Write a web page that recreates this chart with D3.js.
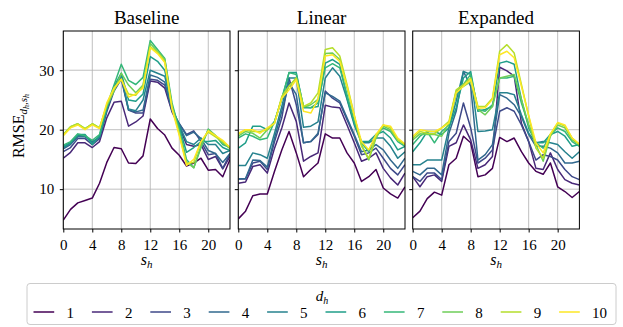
<!DOCTYPE html>
<html><head><meta charset="utf-8">
<script src="https://cdn.jsdelivr.net/npm/d3@7"></script>
<style>body{margin:0;background:#fff}svg{display:block}text{font-family:"Liberation Serif","DejaVu Serif",serif;fill:#000}</style>
</head><body><svg id="c" width="623" height="327"></svg>
<script>
const hours = d3.range(24);
const dhLabels = ["1","2","3","4","5","6","7","8","9","10"];
const panelTitles = ["Baseline","Linear","Expanded"];
const xTicks = [0,4,8,12,16,20];
const yTicks = [10,20,30];

const baseline = [
 [4.8,6.6,7.7,8.1,8.5,11.0,14.5,17.0,16.8,14.4,14.3,15.6,21.8,20.2,19.1,16.9,15.7,13.9,14.4,15.2,13.2,13.3,12.1,15.0],
 [15.2,16.2,17.8,17.8,17.0,18.0,22.0,24.6,24.8,20.6,21.3,22.3,28.2,28.0,27.0,23.0,20.5,17.5,17.2,17.5,15.0,15.5,13.4,15.5],
 [16.3,17.0,18.5,18.5,17.5,18.5,23.0,26.5,28.5,23.3,22.8,22.8,28.5,28.3,27.5,23.2,21.0,19.2,19.8,18.0,15.8,16.0,13.5,16.0],
 [16.8,17.5,18.8,18.8,18.0,18.7,23.3,26.8,28.8,23.3,23.0,23.3,29.2,28.8,28.0,23.3,21.0,19.0,19.6,18.5,16.5,16.0,14.5,16.0],
 [17.0,17.7,19.0,19.0,17.8,18.8,23.5,27.0,29.0,23.5,23.2,25.0,30.0,29.5,29.0,23.5,20.8,18.0,17.5,18.6,17.5,17.5,16.0,16.5],
 [17.2,17.8,19.2,19.2,17.5,19.0,23.5,27.3,29.5,25.0,24.8,26.0,32.3,31.5,30.0,24.0,20.5,16.2,17.0,18.0,18.0,18.2,17.0,16.5],
 [17.4,18.0,19.3,19.0,18.2,19.2,24.0,27.5,31.0,28.3,27.6,28.8,35.0,33.5,32.0,24.5,20.0,15.0,13.6,17.0,20.1,19.0,17.5,17.0],
 [19.2,20.5,21.0,20.2,21.0,20.3,24.0,26.5,29.5,27.5,26.2,27.5,34.5,33.2,31.8,24.0,19.5,14.5,13.6,17.2,20.0,19.0,17.8,16.8],
 [19.2,20.5,21.0,20.2,21.0,20.3,24.2,26.8,28.5,26.0,25.8,27.3,34.0,33.0,31.5,23.8,19.3,14.3,14.5,18.0,19.6,18.8,18.0,17.0],
 [19.0,20.3,20.8,20.0,20.8,20.2,24.5,27.0,28.5,25.5,26.0,27.0,33.8,32.8,31.3,23.5,19.0,14.0,15.0,18.0,19.8,19.0,18.2,17.0]
];
const linear = [
 [5.0,6.3,8.9,9.2,9.2,13.0,16.6,19.7,16.1,12.1,13.3,14.4,19.3,18.6,18.6,16.1,14.4,11.3,12.1,13.3,10.2,9.2,8.5,10.4],
 [11.0,11.2,13.8,14.1,12.7,16.9,20.3,24.5,21.4,14.7,15.5,16.1,24.1,23.8,23.7,20.8,17.8,14.7,15.2,16.1,13.5,11.9,10.7,12.7],
 [11.7,11.7,14.4,14.7,13.3,18.0,22.0,28.7,24.2,17.8,18.0,19.2,26.5,25.3,24.5,21.7,18.9,15.8,16.1,16.9,15.2,13.5,12.4,14.1],
 [11.7,11.8,14.9,14.8,13.7,18.6,23.1,27.9,25.9,17.8,18.0,19.4,26.2,25.6,24.8,22.0,19.2,16.3,16.6,17.5,16.6,14.9,13.5,15.2],
 [14.0,14.0,16.1,15.8,15.2,19.4,23.9,28.7,28.7,20.4,20.6,21.3,28.7,30.4,29.0,25.1,20.8,17.8,17.8,18.6,18.6,17.2,15.2,16.3],
 [16.9,17.8,20.6,20.6,20.0,21.4,25.1,29.6,29.6,23.7,23.7,23.9,31.2,31.8,31.0,25.3,21.1,18.0,18.0,19.2,19.7,18.6,16.6,17.2],
 [18.6,19.3,18.9,18.3,18.6,21.4,25.3,29.6,29.3,23.9,23.7,24.5,30.4,31.1,30.4,25.9,21.4,17.8,16.3,19.2,20.3,19.7,18.0,17.2],
 [18.9,19.7,19.4,18.6,20.0,21.1,25.3,27.3,28.7,23.8,24.2,25.1,32.8,32.9,31.8,27.0,22.2,17.5,14.9,18.6,20.6,20.0,18.3,17.5],
 [19.2,20.0,19.7,19.7,20.0,21.1,25.6,27.3,28.7,23.9,24.5,26.2,33.5,33.8,32.4,27.6,22.5,17.2,15.2,18.9,20.8,20.3,18.3,17.5],
 [19.4,20.0,20.0,19.4,20.3,21.1,25.3,26.7,28.4,23.1,22.8,25.1,32.4,32.6,31.5,27.3,22.4,18.0,16.6,19.2,20.8,20.6,18.6,17.6]
];
const expanded = [
 [5.2,6.3,8.4,9.5,9.0,14.1,15.2,18.9,17.8,12.1,12.4,13.5,18.7,18.0,18.6,16.3,14.4,13.0,12.5,14.4,10.4,9.6,8.6,9.6],
 [12.1,10.4,12.1,12.4,11.3,17.2,17.8,20.8,18.3,13.5,14.1,15.5,30.5,29.9,29.0,21.1,18.0,13.5,13.3,16.1,13.3,11.6,11.0,10.7],
 [12.1,11.3,12.7,12.7,11.6,18.0,19.4,24.5,20.3,14.4,15.2,16.6,23.1,23.7,23.1,20.8,18.0,14.9,15.8,15.5,14.9,13.3,12.1,11.6],
 [13.0,12.4,13.5,13.5,12.4,19.4,23.1,29.8,27.3,14.9,15.8,17.5,25.9,25.3,24.2,22.2,19.2,17.2,17.2,16.9,16.1,14.4,14.4,14.7],
 [14.1,14.1,14.9,14.9,14.9,20.3,24.8,29.8,29.3,19.7,19.8,20.0,26.2,26.2,25.9,22.5,19.4,17.8,18.0,17.8,17.5,16.3,15.2,16.3],
 [16.3,17.8,19.7,19.7,19.2,20.3,23.7,28.7,29.8,23.1,23.4,23.9,31.2,31.5,31.0,25.1,20.3,17.8,17.8,19.2,19.7,18.9,17.2,17.5],
 [17.5,18.9,19.7,17.8,19.7,20.8,25.9,27.6,29.3,23.4,23.1,24.2,28.7,28.7,29.0,24.5,20.8,17.8,16.9,19.2,20.3,19.7,18.0,17.2],
 [18.3,19.3,19.2,19.2,18.9,21.1,26.5,27.3,28.1,23.4,22.5,23.9,28.7,29.0,29.3,25.1,20.8,17.5,14.7,18.9,20.8,20.3,18.3,17.5],
 [18.6,19.7,19.4,19.3,20.3,21.4,26.7,27.6,28.7,23.9,23.9,25.3,33.2,34.3,32.9,27.6,22.3,16.9,15.2,19.2,21.1,20.6,18.6,17.5],
 [18.9,20.0,19.8,19.7,20.3,21.1,26.2,27.3,28.4,23.6,23.7,25.1,32.6,33.2,32.1,27.3,22.4,17.8,16.1,19.3,21.2,20.8,18.6,17.6]
];
const panels = [baseline, linear, expanded];

const svg = d3.select("#c");
const yTop = 31, yBot = 229;
const lefts = [63.3, 238.3, 412.7], pw = 166.7;
const color = i => d3.interpolateViridis(i / 9);
const y = d3.scaleLinear().domain([3.3, 36.6]).range([yBot, yTop]);

panels.forEach((data, p) => {
  const x = d3.scaleLinear().domain([0, 23]).range([lefts[p], lefts[p] + pw]);
  const g = svg.append("g");
  g.selectAll(".gx").data(xTicks).join("line")
    .attr("x1", d => x(d)).attr("x2", d => x(d)).attr("y1", yTop).attr("y2", yBot)
    .attr("stroke", "#b0b0b0").attr("stroke-width", 0.8);
  g.selectAll(".gy").data(yTicks).join("line")
    .attr("y1", d => y(d)).attr("y2", d => y(d)).attr("x1", x(0)).attr("x2", x(23))
    .attr("stroke", "#b0b0b0").attr("stroke-width", 0.8);
  const clipId = "clip" + p;
  svg.append("clipPath").attr("id", clipId).append("rect")
    .attr("x", x(0)).attr("y", yTop).attr("width", pw).attr("height", yBot - yTop);
  const line = d3.line().x((d, i) => x(hours[i])).y(d => y(d));
  g.append("g").attr("clip-path", `url(#${clipId})`).selectAll("path").data(data).join("path")
    .attr("d", line).attr("fill", "none").attr("stroke", (d, i) => color(i))
    .attr("stroke-width", 1.5).attr("stroke-linejoin", "round");
  const xa = g.append("g").attr("transform", `translate(0,${yBot})`)
    .call(d3.axisBottom(x).tickValues(xTicks).tickSize(3.5).tickPadding(6.5));
  xa.select(".domain").remove();
  xa.selectAll("text").attr("font-size", 15).attr("font-family", "Liberation Serif");
  const ya = g.append("g").attr("transform", `translate(${x(0)},0)`)
    .call(d3.axisLeft(y).tickValues(yTicks).tickSize(3.5).tickPadding(5.5)
      .tickFormat(p === 0 ? d3.format("d") : () => ""));
  ya.select(".domain").remove();
  ya.selectAll("text").attr("font-size", 15).attr("font-family", "Liberation Serif");
  g.append("rect").attr("x", x(0)).attr("y", yTop).attr("width", pw).attr("height", yBot - yTop)
    .attr("fill", "none").attr("stroke", "#000").attr("stroke-width", 1);
  g.append("text").attr("x", x(0) + pw / 2).attr("y", 24).attr("text-anchor", "middle")
    .attr("font-size", 19).text(panelTitles[p]);
  const xl = g.append("text").attr("x", x(0) + pw / 2).attr("y", 265).attr("text-anchor", "middle")
    .attr("font-size", 16).attr("font-style", "italic");
  xl.append("tspan").text("s");
  xl.append("tspan").attr("font-size", 11).attr("dy", 3).text("h");
});

const yl = svg.append("text").attr("transform", "translate(24,126) rotate(-90)")
  .attr("text-anchor", "middle").attr("font-size", 16);
yl.append("tspan").text("RMSE");
yl.append("tspan").attr("font-size", 11).attr("font-style", "italic").attr("dy", 3).text("d");
yl.append("tspan").attr("font-size", 8).attr("font-style", "italic").attr("dy", 2).text("h");
yl.append("tspan").attr("font-size", 11).attr("dy", -2).text(",");
yl.append("tspan").attr("font-size", 11).attr("font-style", "italic").text("s");
yl.append("tspan").attr("font-size", 8).attr("font-style", "italic").attr("dy", 2).text("h");

const lg = svg.append("g");
lg.append("rect").attr("x", 27).attr("y", 283.5).attr("width", 589).attr("height", 41).attr("rx", 3)
  .attr("fill", "#fff").attr("stroke", "#cccccc").attr("stroke-width", 1);
const lt = lg.append("text").attr("x", 322).attr("y", 301).attr("text-anchor", "middle")
  .attr("font-size", 15).attr("font-style", "italic");
lt.append("tspan").text("d");
lt.append("tspan").attr("font-size", 10).attr("dy", 3).text("h");
const step = 58.4;
dhLabels.forEach((lab, i) => {
  const x0 = 33.5 + i * step;
  lg.append("line").attr("x1", x0).attr("x2", x0 + 20.7).attr("y1", 312).attr("y2", 312)
    .attr("stroke", color(i)).attr("stroke-width", 1.5);
  lg.append("text").attr("x", x0 + 33).attr("y", 317.5).attr("font-size", 15).text(lab);
});
</script></body></html>
